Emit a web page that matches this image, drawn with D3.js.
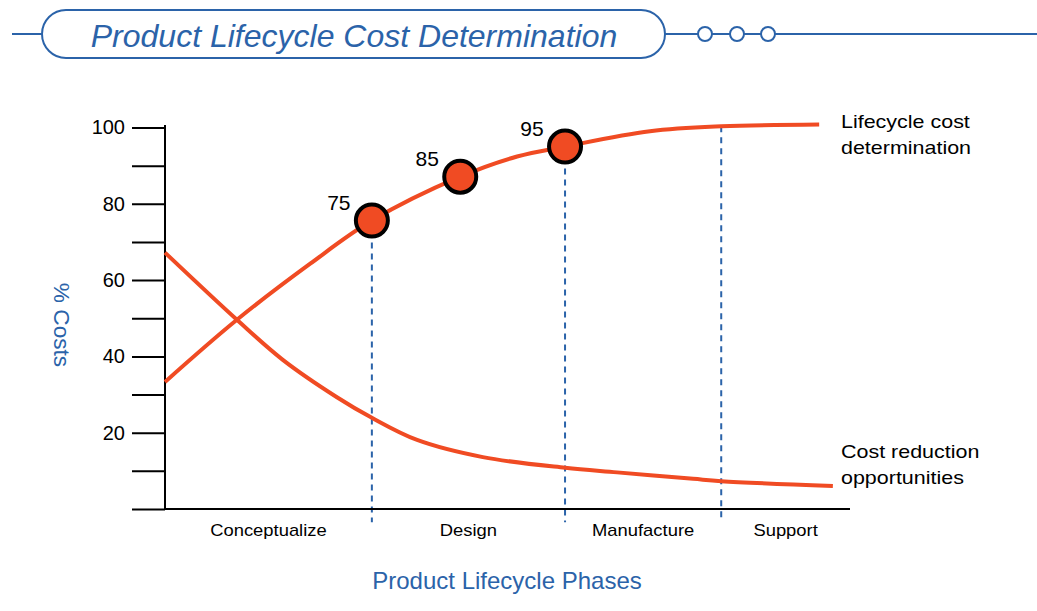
<!DOCTYPE html>
<html>
<head>
<meta charset="utf-8">
<script src="https://cdn.jsdelivr.net/npm/d3@7"></script>
<style>
  body { margin: 0; background: #fff; }
  text { font-family: Arial, "Liberation Sans", Helvetica, sans-serif; }
</style>
</head>
<body>
<div id="plot"></div>
<script>
// chart data (x: % of lifecycle span, y: % costs)
var phases = ["Conceptualize", "Design", "Manufacture", "Support"];
var phaseBounds = [0, 30.2, 58.4, 81.2, 100];
var yTicks = [0, 10, 20, 30, 40, 50, 60, 70, 80, 90, 100];
var yLabels = [20, 40, 60, 80, 100];

var determinationX = [0, 10.5, 21.2, 30.2, 43.1, 51.4, 58.4, 70.8, 81.2, 95.5];
var determinationY = [33.3, 49.6, 64.3, 75.6, 87.1, 92.4, 95.0, 99.0, 100.3, 100.8];

var reductionX = [0, 10.5, 17.2, 25.1, 30.2, 36.8, 46.4, 58.4, 66, 77.1, 81.2, 97.5];
var reductionY = [67.2, 49.6, 39.1, 29.3, 23.9, 18.1, 13.6, 10.8, 9.6, 7.9, 7.3, 6.0];

var markerX = [30.2, 43.1, 58.4];
var markerY = [75.6, 87.1, 95.0];
var markerLabels = ["75", "85", "95"];

var seriesNames = [["Lifecycle cost", "determination"], ["Cost reduction", "opportunities"]];

var blue = "#2b63a9", red = "#f04b23";

var W = 1037, H = 611;
var svg = d3.select("#plot").append("svg")
    .attr("width", W)
    .attr("height", H);

// text in the picture is drawn a bit wider than Arial
function wideText(g, x, y, sx, str) {
  return g.append("text")
    .attr("transform", "translate(" + x + "," + y + ") scale(" + sx + ",1)")
    .text(str);
}

// title banner
var banner = svg.append("g");
banner.append("line").attr("x1", 12).attr("x2", 42).attr("y1", 34).attr("y2", 34)
  .attr("stroke", blue).attr("stroke-width", 2);
banner.append("line").attr("x1", 665).attr("x2", 1037).attr("y1", 34).attr("y2", 34)
  .attr("stroke", blue).attr("stroke-width", 2);
banner.append("rect")
  .attr("x", 42).attr("y", 10).attr("width", 623).attr("height", 48)
  .attr("rx", 24).attr("ry", 24)
  .attr("fill", "#fff").attr("stroke", blue).attr("stroke-width", 2);
banner.selectAll("circle").data([705, 737, 768]).enter().append("circle")
  .attr("cx", d => d).attr("cy", 34).attr("r", 7)
  .attr("fill", "#fff").attr("stroke", blue).attr("stroke-width", 2);
banner.append("text")
  .attr("x", 354).attr("y", 47)
  .attr("text-anchor", "middle")
  .attr("font-size", 32).attr("font-style", "italic")
  .attr("fill", blue)
  .text("Product Lifecycle Cost Determination");

// scales
var x = d3.scaleLinear().domain([0, 100]).range([165, 850]);
var y = d3.scaleLinear().domain([0, 100]).range([509, 127.5]);

var series = [
  determinationX.map((v, i) => [v, determinationY[i]]),
  reductionX.map((v, i) => [v, reductionY[i]])
];

// phase separators, from the upper curve down past the axis
svg.append("g").selectAll("line")
  .data(phaseBounds.slice(1, 4))
  .enter().append("line")
    .attr("x1", d => x(d)).attr("x2", d => x(d))
    .attr("y1", d => y(d3.least(series[0], p => Math.abs(p[0] - d))[1]))
    .attr("y2", y(-3.5))
    .attr("stroke", blue).attr("stroke-width", 2)
    .attr("stroke-dasharray", "6,5");

// y axis
var yAxis = svg.append("g")
  .attr("transform", "translate(165,0)")
  .call(d3.axisLeft(y).tickValues(yTicks).tickSize(33).tickPadding(7)
    .tickFormat(d => yLabels.includes(d) ? d : ""));
yAxis.select(".domain").remove();
yAxis.selectAll(".tick line").attr("stroke", "#000").attr("stroke-width", 2);
yAxis.selectAll(".tick text").attr("font-size", 20).attr("fill", "#000")
  .attr("font-family", "Arial, 'Liberation Sans', sans-serif");
svg.append("line").attr("x1", 165).attr("x2", 165).attr("y1", 125).attr("y2", y(0) + 1)
  .attr("stroke", "#000").attr("stroke-width", 2);

// x axis
svg.append("line").attr("x1", x(0)).attr("x2", x(100)).attr("y1", y(0)).attr("y2", y(0))
  .attr("stroke", "#000").attr("stroke-width", 2);

var phaseG = svg.append("g")
  .attr("text-anchor", "middle")
  .attr("font-size", 16)
  .attr("fill", "#000");
phases.forEach(function(d, i) {
  wideText(phaseG, x((phaseBounds[i] + phaseBounds[i + 1]) / 2), 536, 1.15, d);
});

// axis titles
svg.append("text")
  .attr("x", 507).attr("y", 589)
  .attr("text-anchor", "middle")
  .attr("font-size", 24).attr("fill", blue)
  .text("Product Lifecycle Phases");

svg.append("text")
  .attr("transform", "translate(54,325) rotate(90) scale(1.03,1)")
  .attr("text-anchor", "middle")
  .attr("font-size", 22).attr("fill", blue)
  .text("% Costs");

// curves
var line = d3.line()
  .x(d => x(d[0]))
  .y(d => y(d[1]))
  .curve(d3.curveCatmullRom.alpha(0.5));

svg.append("g").selectAll("path")
  .data(series)
  .enter().append("path")
    .attr("d", line)
    .attr("fill", "none")
    .attr("stroke", red)
    .attr("stroke-width", 4);

// series labels
var labG = svg.append("g").attr("font-size", 19).attr("fill", "#000");
seriesNames.forEach(function(d, i) {
  var y0 = i == 0 ? 128 : 458;
  d.forEach(function(s, j) {
    wideText(labG, 841, y0 + j * 26, 1.13, s);
  });
});

// markers
svg.append("g").selectAll("circle")
  .data(markerX)
  .enter().append("circle")
    .attr("cx", d => x(d))
    .attr("cy", (d, i) => y(markerY[i]))
    .attr("r", 16)
    .attr("fill", red)
    .attr("stroke", "#000")
    .attr("stroke-width", 4);

svg.append("g").selectAll("text")
  .data(markerLabels)
  .enter().append("text")
    .attr("x", (d, i) => x(markerX[i]) - 33)
    .attr("y", (d, i) => y(markerY[i]) - 11)
    .attr("text-anchor", "middle")
    .attr("font-size", 21)
    .attr("fill", "#000")
    .text(d => d);
</script>
</body>
</html>
